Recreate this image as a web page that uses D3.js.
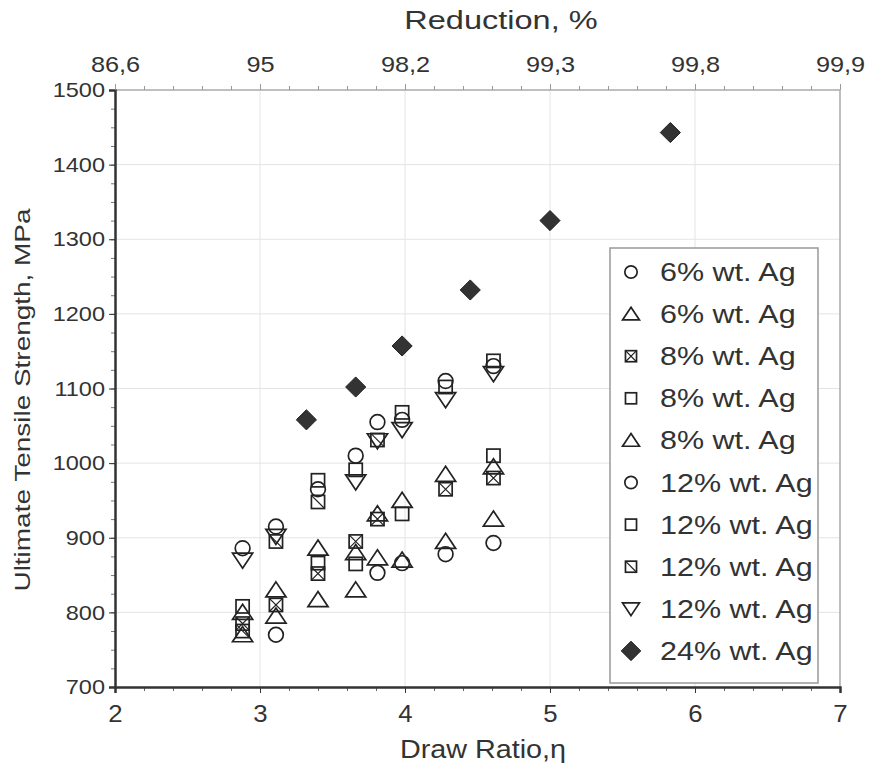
<!DOCTYPE html>
<html>
<head>
<meta charset="utf-8">
<script src="https://cdn.jsdelivr.net/npm/d3@7"></script>
<style>
  body { margin: 0; background: #fff; }
  svg { font-family: "Liberation Sans", Arial, sans-serif; }
  .grid line { stroke: #e4e4e4; stroke-width: 1; }
  .axis text { fill: #333; }
</style>
</head>
<body>
<svg width="869" height="769"></svg>
<script>
// draw ratio columns shared by the open-symbol series
const drawRatio = [2.88, 3.11, 3.40, 3.66, 3.81, 3.98, 4.28, 4.61];

const ag6Circle   = [null, 770, null, null, 853, 866, 878, 893];
const ag6Tri      = [770, 795, 817, 830, 873, 870, 895, 925];
const ag8Cross    = [785, 810, 852, 895, 925, null, 965, 980];
const ag8Square   = [808, null, 866, 865, null, 932, null, 1010];
const ag8Tri      = [800, 830, 886, 880, 932, 950, 985, 995];
const ag12Circle  = [886, 915, 965, 1010, 1055, 1058, 1110, 1130];
const ag12Square  = [null, null, 977, 991, null, 1068, 1102, 1137];
const ag12Hatch   = [775, 895, 948, null, 1031, null, null, null];
const ag12TriDown = [870, 902, null, 975, 1030, 1045, 1085, 1120];

const ag24Ratio = [3.32, 3.66, 3.98, 4.45, 5.0, 5.83];
const ag24Uts   = [1058, 1102, 1157, 1232, 1325, 1443];

const xTicks = [2, 3, 4, 5, 6, 7];
const reductionLabels = ['86,6', '95', '98,2', '99,3', '99,8', '99,9'];
const yTicks = [700, 800, 900, 1000, 1100, 1200, 1300, 1400, 1500];

const series = [
  {label: '6% wt. Ag',  shape: 'circle',  values: ag6Circle},
  {label: '6% wt. Ag',  shape: 'triUp',   values: ag6Tri},
  {label: '8% wt. Ag',  shape: 'cross',   values: ag8Cross},
  {label: '8% wt. Ag',  shape: 'square',  values: ag8Square},
  {label: '8% wt. Ag',  shape: 'triUp',   values: ag8Tri},
  {label: '12% wt. Ag', shape: 'circle',  values: ag12Circle},
  {label: '12% wt. Ag', shape: 'square',  values: ag12Square},
  {label: '12% wt. Ag', shape: 'hatch',   values: ag12Hatch},
  {label: '12% wt. Ag', shape: 'triDown', values: ag12TriDown},
  {label: '24% wt. Ag', shape: 'diamond', values: ag24Uts, xs: ag24Ratio}
];

const svg = d3.select('svg');
const margin = {top: 90, right: 29, bottom: 82, left: 115};
const width = 869 - margin.left - margin.right;
const height = 769 - margin.top - margin.bottom;

const x = d3.scaleLinear().domain([2, 7]).range([margin.left, margin.left + width]);
const y = d3.scaleLinear().domain([700, 1500]).range([margin.top + height, margin.top]);

// the original lettering is wider than Arial, stretch it a bit
function stretch(sel, k) {
  sel.each(function() {
    const w = this.getComputedTextLength();
    d3.select(this).attr('textLength', w * k).attr('lengthAdjust', 'spacingAndGlyphs');
  });
}

// grid
const grid = svg.append('g').attr('class', 'grid');
grid.selectAll('.gx').data(xTicks.slice(1, -1)).enter().append('line')
    .attr('x1', d => x(d)).attr('x2', d => x(d))
    .attr('y1', y(700)).attr('y2', y(1500));
grid.selectAll('.gy').data(yTicks.slice(1, -1)).enter().append('line')
    .attr('x1', x(2)).attr('x2', x(7))
    .attr('y1', d => y(d)).attr('y2', d => y(d));

// frame top / right
svg.append('line').attr('x1', x(2)).attr('x2', x(7)).attr('y1', y(1500)).attr('y2', y(1500))
    .attr('stroke', '#aaa').attr('stroke-width', 1.5);
svg.append('line').attr('x1', x(7)).attr('x2', x(7)).attr('y1', y(1500)).attr('y2', y(700))
    .attr('stroke', '#aaa').attr('stroke-width', 1.5);

// minor ticks
const xMinor = d3.range(2, 7.001, 0.2);
const yMinor = d3.range(700, 1500.1, 25);

svg.append('g').attr('transform', `translate(0,${y(700)})`)
    .call(d3.axisBottom(x).tickValues(xMinor).tickSize(4).tickFormat(''))
    .call(g => g.select('.domain').remove())
    .selectAll('line').attr('stroke', '#666');
svg.append('g').attr('transform', `translate(0,${y(1500)})`)
    .call(d3.axisTop(x).tickValues(xMinor).tickSize(4).tickFormat(''))
    .call(g => g.select('.domain').remove())
    .selectAll('line').attr('stroke', '#999');
svg.append('g').attr('transform', `translate(${x(2)},0)`)
    .call(d3.axisLeft(y).tickValues(yMinor).tickSize(4).tickFormat(''))
    .call(g => g.select('.domain').remove())
    .selectAll('line').attr('stroke', '#777');

// bottom axis
svg.append('g').attr('class', 'axis')
    .attr('transform', `translate(0,${y(700)})`)
    .call(d3.axisBottom(x).tickValues(xTicks).tickSize(6).tickPadding(13).tickFormat(d3.format('d')))
    .call(g => g.select('.domain').attr('stroke', '#333').attr('stroke-width', 2.5))
    .call(g => g.selectAll('.tick line').attr('stroke', '#333'))
    .selectAll('text').attr('font-size', 23).call(stretch, 1.12);

// left axis
svg.append('g').attr('class', 'axis')
    .attr('transform', `translate(${x(2)},0)`)
    .call(d3.axisLeft(y).tickValues(yTicks).tickSize(6).tickPadding(4).tickFormat(d3.format('d')))
    .call(g => g.select('.domain').attr('stroke', '#333').attr('stroke-width', 2.5))
    .call(g => g.selectAll('.tick line').attr('stroke', '#333'))
    .selectAll('text').attr('font-size', 21).call(stretch, 1.12);

// top axis (reduction)
svg.append('g').attr('class', 'axis')
    .attr('transform', `translate(0,${y(1500)})`)
    .call(d3.axisTop(x).tickValues(xTicks).tickSize(6).tickPadding(12)
        .tickFormat((d, i) => reductionLabels[i]))
    .call(g => g.select('.domain').remove())
    .call(g => g.selectAll('.tick line').attr('stroke', '#999'))
    .selectAll('text').attr('font-size', 22).call(stretch, 1.15);

// titles
svg.append('text').attr('x', 501).attr('y', 29).attr('text-anchor', 'middle')
    .attr('font-size', 25).attr('fill', '#333').text('Reduction, %').call(stretch, 1.3);
svg.append('text').attr('x', 483).attr('y', 758).attr('text-anchor', 'middle')
    .attr('font-size', 25).attr('fill', '#333').text('Draw Ratio,η').call(stretch, 1.15);
svg.append('text').attr('transform', `translate(30,400) rotate(-90)`).attr('text-anchor', 'middle')
    .attr('font-size', 22).attr('fill', '#333').text('Ultimate Tensile Strength, MPa').call(stretch, 1.27);

// marker shapes
function drawMarker(g, shape, s) {
  const st = '#222', sw = 1.7;
  const h = s / 2;
  if (shape === 'circle') {
    g.append('circle').attr('r', h * 0.95).attr('fill', 'none').attr('stroke', st).attr('stroke-width', sw);
  } else if (shape === 'square' || shape === 'cross' || shape === 'hatch') {
    const q = h * 0.85;
    g.append('rect').attr('x', -q).attr('y', -q).attr('width', 2 * q).attr('height', 2 * q)
        .attr('fill', 'none').attr('stroke', st).attr('stroke-width', sw);
    if (shape === 'cross') {
      g.append('path').attr('d', `M${-q},${-q}L${q},${q}M${q},${-q}L${-q},${q}`)
          .attr('stroke', st).attr('stroke-width', 1.2);
    }
    if (shape === 'hatch') {
      g.append('path').attr('d', `M${-q},${-q}L${q},${q}`)
          .attr('stroke', st).attr('stroke-width', 1.2);
    }
  } else if (shape === 'triUp') {
    const w = h * 1.3;
    g.append('path').attr('d', `M0,${-h * 1.05}L${w},${h * 0.9}L${-w},${h * 0.9}Z`)
        .attr('fill', 'none').attr('stroke', st).attr('stroke-width', sw);
  } else if (shape === 'triDown') {
    const w = h * 1.3;
    g.append('path').attr('d', `M0,${h * 1.05}L${w},${-h * 0.9}L${-w},${-h * 0.9}Z`)
        .attr('fill', 'none').attr('stroke', st).attr('stroke-width', sw);
  } else if (shape === 'diamond') {
    const d = h * 1.3;
    g.append('path').attr('d', `M0,${-d}L${d},0L0,${d}L${-d},0Z`)
        .attr('fill', '#333').attr('stroke', '#222').attr('stroke-width', 1);
  }
}

// points
const pts = svg.append('g');
series.forEach(s => {
  const xs = s.xs || drawRatio;
  s.values.forEach((v, i) => {
    if (v == null) return;
    const g = pts.append('g').attr('transform', `translate(${x(xs[i])},${y(v)})`);
    drawMarker(g, s.shape, 15.5);
  });
});

// legend
const legend = svg.append('g');
legend.append('rect').attr('x', 610).attr('y', 248).attr('width', 208).attr('height', 435)
    .attr('fill', '#fff').attr('stroke', '#999').attr('stroke-width', 1.5);
series.forEach((s, i) => {
  const yy = 272 + i * 42.1;
  const g = legend.append('g').attr('transform', `translate(631,${yy})`);
  drawMarker(g, s.shape, s.shape === 'diamond' ? 15 : 13);
  legend.append('text').attr('x', 660).attr('y', yy + 9).attr('font-size', 25)
      .attr('fill', '#333').text(s.label).call(stretch, 1.22);
});
</script>
</body>
</html>
